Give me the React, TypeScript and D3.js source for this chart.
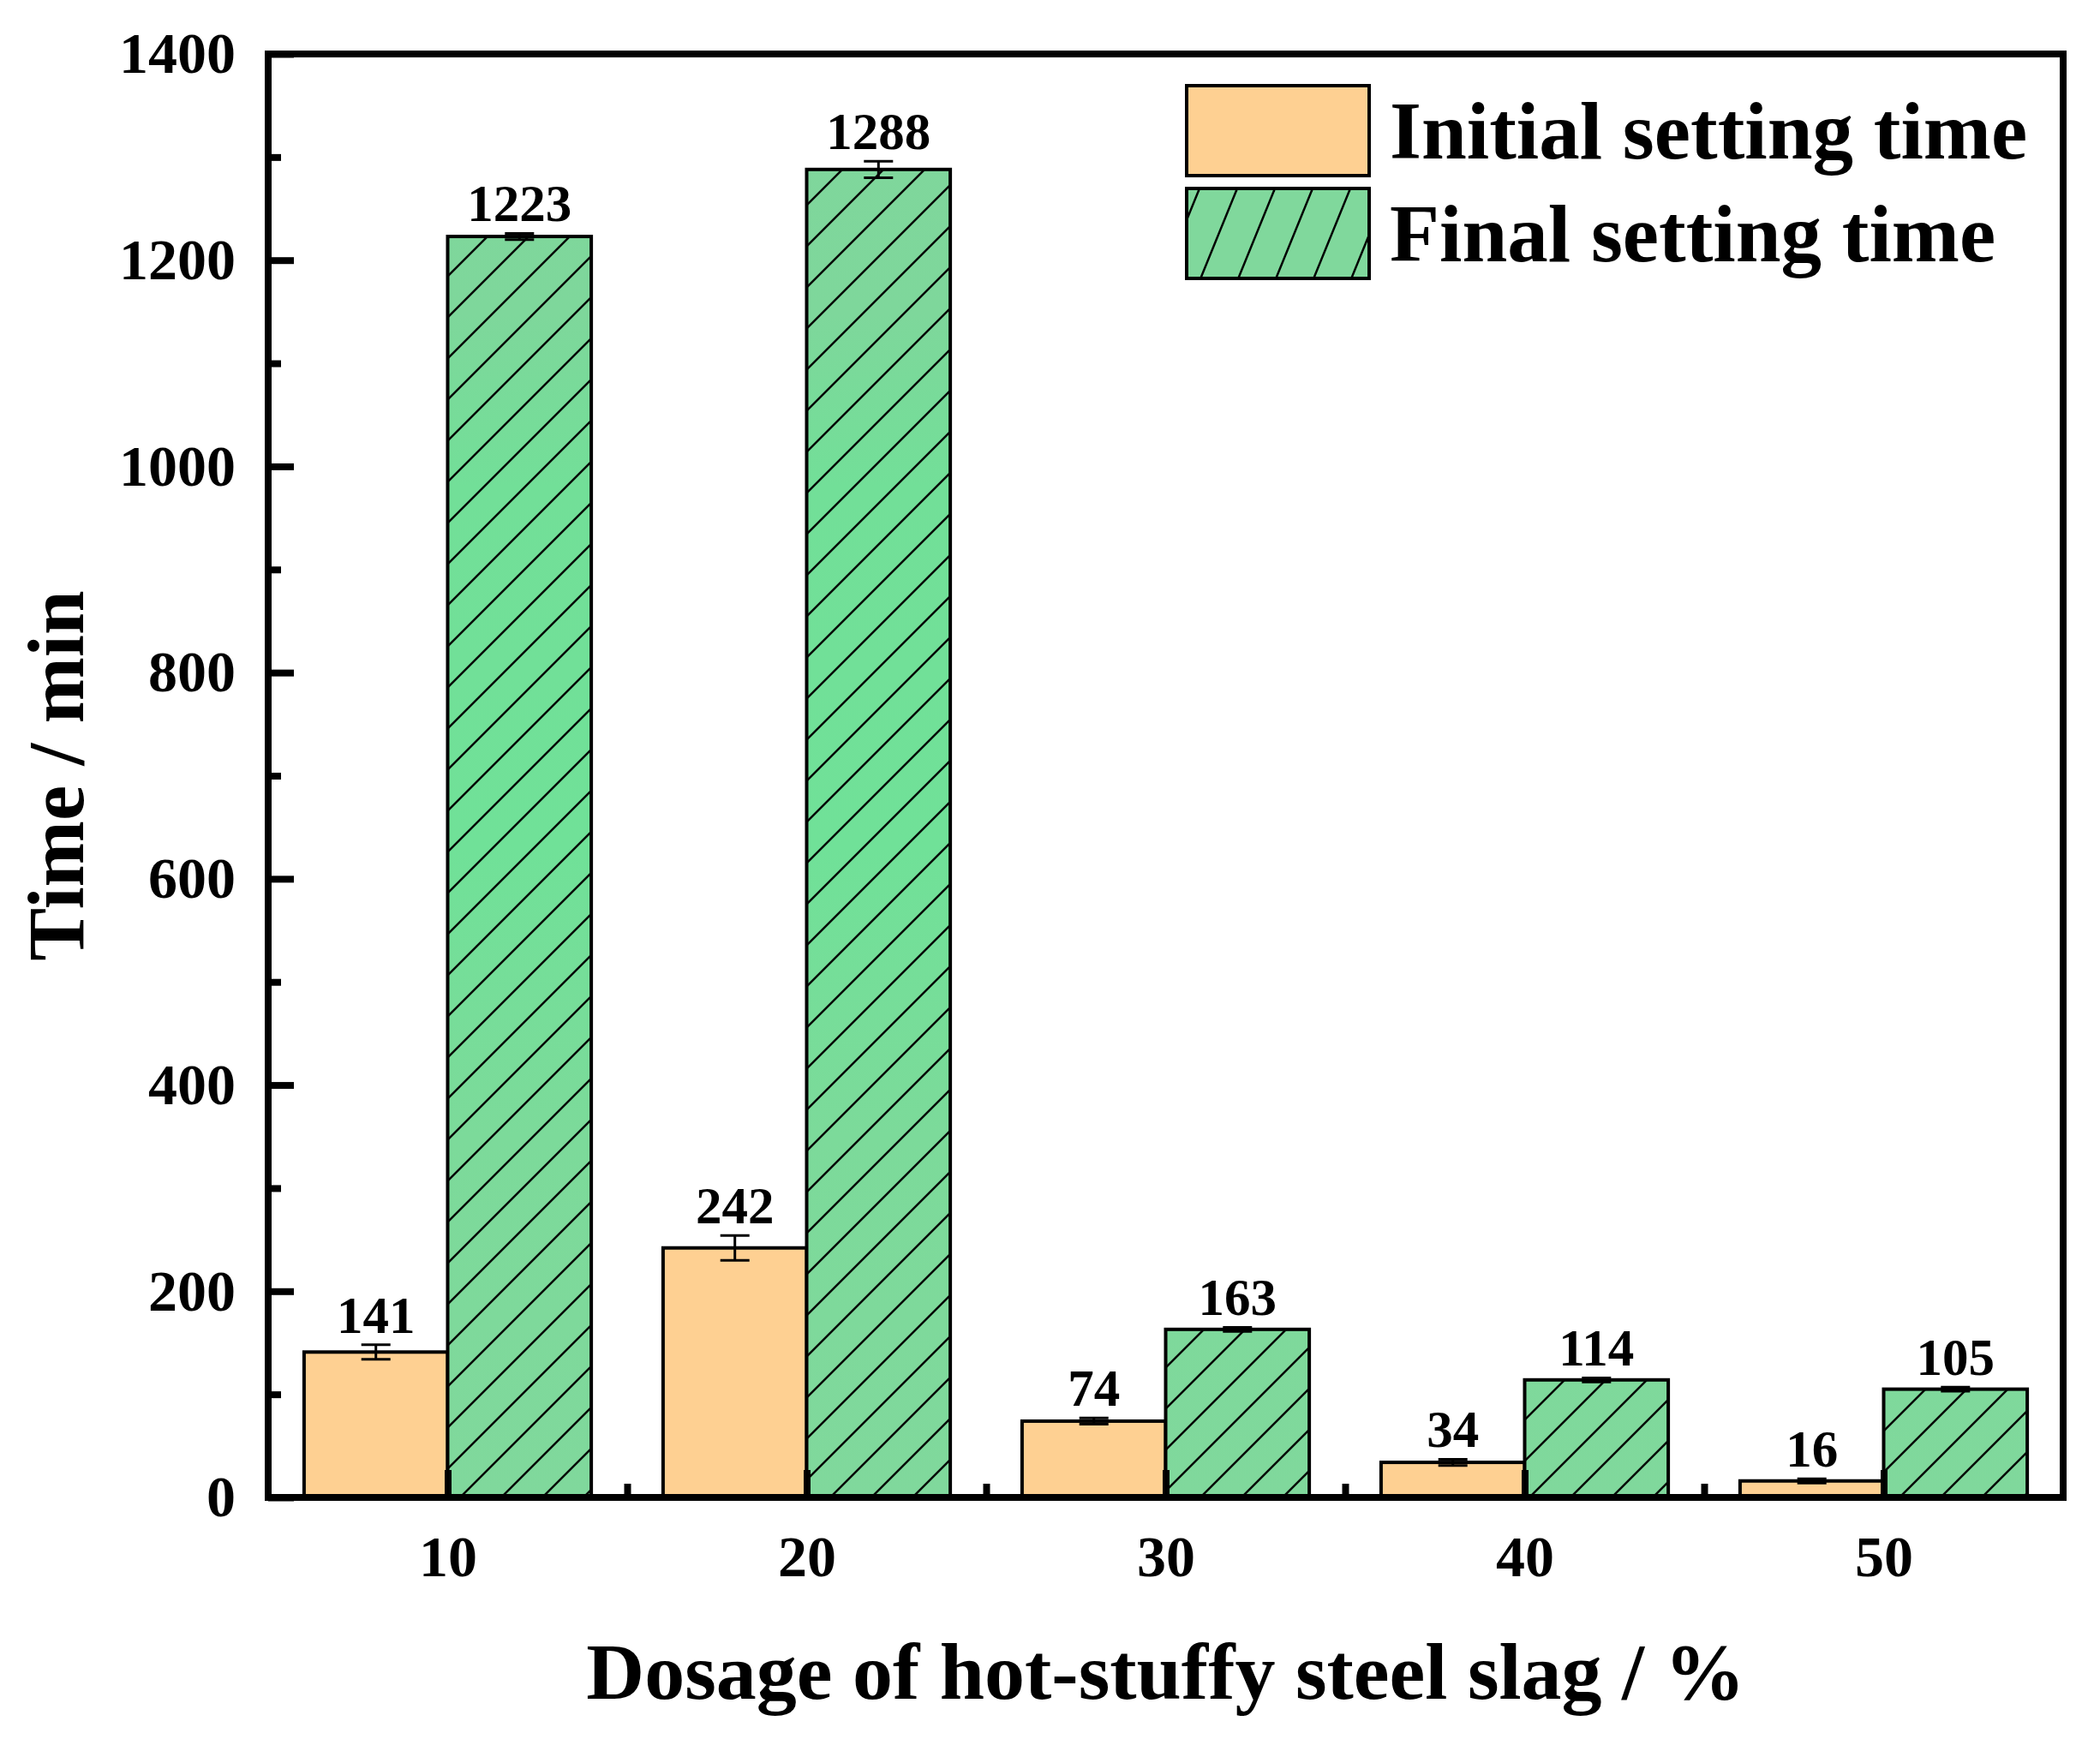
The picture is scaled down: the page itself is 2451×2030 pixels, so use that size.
import React, { useRef, useEffect } from "react";
import * as d3 from "d3";

// Data
const dosages = [10, 20, 30, 40, 50];
const initialTime = [141, 242, 74, 34, 16];
const initialErr = [7, 12, 3, 3, 2];
const finalTime = [1223, 1288, 163, 114, 105];
const finalErr = [3, 8, 2, 2, 2];
const yTicks = [0, 200, 400, 600, 800, 1000, 1200, 1400];
const yMinor = [100, 300, 500, 700, 900, 1100, 1300];
const xMinor = [15, 25, 35, 45];
const seriesNames = ["Initial setting time", "Final setting time"];

const W = 2451;
const H = 2030;
const FONT = "'Liberation Serif', 'Times New Roman', serif";

const App: React.FC = () => {
  const svgRef = useRef<SVGSVGElement | null>(null);

  useEffect(() => {
    if (!svgRef.current) return;
    const svg = d3.select(svgRef.current);
    svg.selectAll("*").remove();

    const left = 313,
      right = 2408,
      top = 63,
      bottom = 1748;
    const barW = 4; // in x units

    const x = d3.scaleLinear().domain([5, 55]).range([left, right]);
    const y = d3.scaleLinear().domain([0, 1400]).range([bottom, top]);

    // defs: gradient + hatch patterns
    const defs = svg.append("defs");
    const grad = defs
      .append("linearGradient")
      .attr("id", "greenGrad")
      .attr("gradientUnits", "userSpaceOnUse")
      .attr("x1", 0)
      .attr("x2", 0)
      .attr("y1", top)
      .attr("y2", bottom);
    [
      [0, "#80D69C"],
      [0.18, "#7ED79B"],
      [0.3, "#72DF98"],
      [0.55, "#70E198"],
      [0.75, "#7CDA9A"],
      [1, "#80D89C"],
    ].forEach(([o, c]) =>
      grad.append("stop").attr("offset", o as number).attr("stop-color", c as string)
    );

    const hatch = defs
      .append("pattern")
      .attr("id", "hatch")
      .attr("patternUnits", "userSpaceOnUse")
      .attr("width", 48)
      .attr("height", 48)
      .attr("patternTransform", "translate(29,0)");
    [
      [0, 48, 48, 0],
      [-12, 12, 12, -12],
      [36, 60, 60, 36],
    ].forEach(([x1, y1, x2, y2]) =>
      hatch
        .append("line")
        .attr("x1", x1)
        .attr("y1", y1)
        .attr("x2", x2)
        .attr("y2", y2)
        .attr("stroke", "#000")
        .attr("stroke-width", 2.5)
    );

    const hatchLeg = defs
      .append("pattern")
      .attr("id", "hatchLeg")
      .attr("patternUnits", "userSpaceOnUse")
      .attr("width", 44)
      .attr("height", 108)
      .attr("patternTransform", "translate(1400,220)");
    [
      [0, 108, 44, 0],
      [-44, 108, 0, 0],
      [44, 108, 88, 0],
    ].forEach(([x1, y1, x2, y2]) =>
      hatchLeg
        .append("line")
        .attr("x1", x1)
        .attr("y1", y1)
        .attr("x2", x2)
        .attr("y2", y2)
        .attr("stroke", "#000")
        .attr("stroke-width", 2.5)
    );

    const data = dosages.map((d, i) => ({
      d,
      ini: initialTime[i],
      iniE: initialErr[i],
      fin: finalTime[i],
      finE: finalErr[i],
    }));

    // Bars
    const bars = svg.append("g").attr("class", "bars");
    bars
      .selectAll(".ini")
      .data(data)
      .enter()
      .append("rect")
      .attr("x", (d) => x(d.d - barW))
      .attr("y", (d) => y(d.ini))
      .attr("width", (d) => x(d.d) - x(d.d - barW))
      .attr("height", (d) => y(0) - y(d.ini))
      .attr("fill", "#FED092")
      .attr("stroke", "#000")
      .attr("stroke-width", 4);
    bars
      .selectAll(".finFill")
      .data(data)
      .enter()
      .append("rect")
      .attr("x", (d) => x(d.d))
      .attr("y", (d) => y(d.fin))
      .attr("width", (d) => x(d.d + barW) - x(d.d))
      .attr("height", (d) => y(0) - y(d.fin))
      .attr("fill", "url(#greenGrad)");
    bars
      .selectAll(".finHatch")
      .data(data)
      .enter()
      .append("rect")
      .attr("x", (d) => x(d.d))
      .attr("y", (d) => y(d.fin))
      .attr("width", (d) => x(d.d + barW) - x(d.d))
      .attr("height", (d) => y(0) - y(d.fin))
      .attr("fill", "url(#hatch)")
      .attr("stroke", "#000")
      .attr("stroke-width", 4);

    // Error bars and value labels
    const eb = svg.append("g").attr("class", "errors");
    const items = data.flatMap((d) => [
      { cx: x(d.d - barW / 2), v: d.ini, e: d.iniE },
      { cx: x(d.d + barW / 2), v: d.fin, e: d.finE },
    ]);
    items.forEach((it) => {
      const g = eb.append("g").attr("stroke", "#000").attr("stroke-width", 3);
      g.append("line")
        .attr("x1", it.cx)
        .attr("x2", it.cx)
        .attr("y1", y(it.v - it.e))
        .attr("y2", y(it.v + it.e));
      [it.v - it.e, it.v + it.e].forEach((v) =>
        g
          .append("line")
          .attr("x1", it.cx - 17)
          .attr("x2", it.cx + 17)
          .attr("y1", y(v))
          .attr("y2", y(v))
      );
      eb.append("text")
        .attr("x", it.cx)
        .attr("y", y(it.v + it.e) - 14)
        .attr("text-anchor", "middle")
        .attr("font-family", FONT)
        .attr("font-weight", "bold")
        .attr("font-size", 61)
        .text(it.v);
    });

    // Axes
    const styleAxis = (g: d3.Selection<SVGGElement, unknown, null, undefined>) => {
      g.select(".domain").remove();
      g.selectAll("line").attr("stroke", "#000").attr("stroke-width", 8);
      g.selectAll("text")
        .attr("font-family", FONT)
        .attr("font-weight", "bold")
        .attr("font-size", 68)
        .attr("fill", "#000");
    };

    svg
      .append("g")
      .attr("transform", `translate(${left},0)`)
      .call(
        d3
          .axisLeft(y)
          .tickValues(yTicks)
          .tickSize(-30)
          .tickSizeOuter(0)
          .tickPadding(38)
          .tickFormat(d3.format("d"))
      )
      .call(styleAxis)
      .attr("font-family", null)
      .attr("font-size", null);
    svg
      .append("g")
      .attr("transform", `translate(${left},0)`)
      .call(
        d3.axisLeft(y).tickValues(yMinor).tickSize(-15).tickSizeOuter(0).tickFormat(() => "")
      )
      .call(styleAxis);

    svg
      .append("g")
      .attr("transform", `translate(0,${bottom})`)
      .call(
        d3
          .axisBottom(x)
          .tickValues(dosages)
          .tickSize(-32)
          .tickSizeOuter(0)
          .tickPadding(44)
          .tickFormat(d3.format("d"))
      )
      .call(styleAxis)
      .attr("font-family", null)
      .attr("font-size", null);
    svg
      .append("g")
      .attr("transform", `translate(0,${bottom})`)
      .call(
        d3.axisBottom(x).tickValues(xMinor).tickSize(-16).tickSizeOuter(0).tickFormat(() => "")
      )
      .call(styleAxis);

    // Frame
    svg
      .append("rect")
      .attr("x", left)
      .attr("y", top)
      .attr("width", right - left)
      .attr("height", bottom - top)
      .attr("fill", "none")
      .attr("stroke", "#000")
      .attr("stroke-width", 8);

    // Axis titles
    svg
      .append("text")
      .attr("x", (left + right) / 2)
      .attr("y", 1983)
      .attr("text-anchor", "middle")
      .attr("font-family", FONT)
      .attr("font-weight", "bold")
      .attr("font-size", 94)
      .text("Dosage of hot-stuffy steel slag / %");
    svg
      .append("text")
      .attr("transform", `translate(97,${(top + bottom) / 2}) rotate(-90)`)
      .attr("text-anchor", "middle")
      .attr("font-family", FONT)
      .attr("font-weight", "bold")
      .attr("font-size", 93)
      .text("Time / min");

    // Legend
    const legend = svg.append("g").attr("class", "legend");
    const fills = ["#FED092", "#80D89C"];
    seriesNames.forEach((name, i) => {
      const ly = 100 + i * 120;
      legend
        .append("rect")
        .attr("x", 1385)
        .attr("y", ly)
        .attr("width", 213)
        .attr("height", 105)
        .attr("fill", fills[i])
        .attr("stroke", "#000")
        .attr("stroke-width", 4);
      if (i === 1) {
        legend
          .append("rect")
          .attr("x", 1385)
          .attr("y", ly)
          .attr("width", 213)
          .attr("height", 105)
          .attr("fill", "url(#hatchLeg)")
          .attr("stroke", "#000")
          .attr("stroke-width", 4);
      }
      legend
        .append("text")
        .attr("x", 1622)
        .attr("y", ly + 85)
        .attr("font-family", FONT)
        .attr("font-weight", "bold")
        .attr("font-size", 95)
        .text(name);
    });

    return () => {
      svg.selectAll("*").remove();
    };
  }, []);

  return (
    <svg
      ref={svgRef}
      width={W}
      height={H}
      style={{ position: "absolute", left: 0, top: 0, background: "#fff" }}
    />
  );
};

export default App;
